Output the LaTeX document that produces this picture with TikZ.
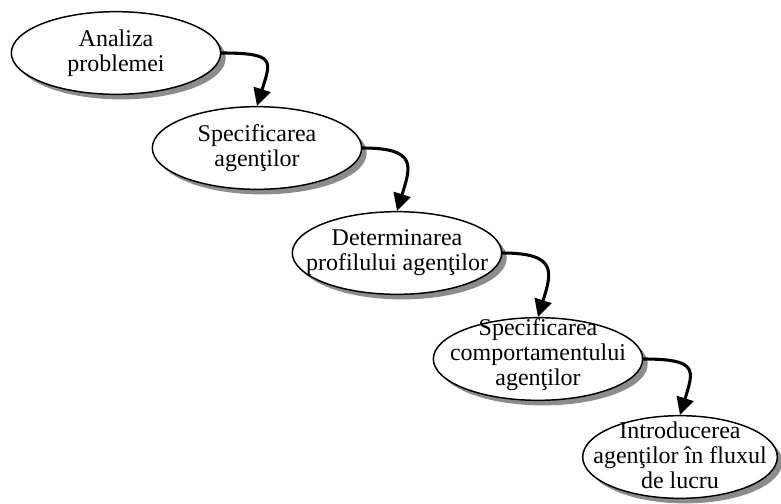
\documentclass[tikz,border=0pt]{standalone}
\usepackage{fontspec}
\setmainfont{Liberation Serif}
\usetikzlibrary{shapes.geometric,shadows,arrows.meta}
\begin{document}
\begin{tikzpicture}[x=0.75pt,y=-0.75pt,line join=round,line cap=round,
	etapa/.style={ellipse,draw,line width=1.1pt,fill=white,inner sep=0pt,minimum width=157pt,minimum height=62pt,
		drop shadow={shadow xshift=3.8pt,shadow yshift=-3.8pt,fill=black!45,opacity=1}},
	every label/.style={align=center,font=\fontsize{18}{18.75}\selectfont},
	flux/.style={-{Triangle[width=13pt,length=13pt]},line width=2.3pt}]
	\useasboundingbox (0,0) rectangle (781,503);
	\node[etapa,label=center:{Analiza\\problemei}] (e1) at (116,53) {};
	\node[etapa,label=center:{Specificarea\\agenţilor}] (e2) at (257,148) {};
	\node[etapa,label=center:{Determinarea\\profilului agenţilor}] (e3) at (397,253) {};
	\node[etapa,label={[yshift=3pt]center:{Specificarea\\comportamentului\\agenţilor}}] (e4) at (538,359) {};
	\node[etapa,minimum width=146pt,label={[yshift=1pt]center:{Introducerea\\agenţilor în fluxul\\de lucru}}] (e5) at (680,457) {};
	\foreach \a/\b in {e1/e2,e2/e3,e3/e4,e4/e5}
		\draw[flux] (\a.east) .. controls +(55,0) and +(14,-45) .. (\b.north);
\end{tikzpicture}
\end{document}
